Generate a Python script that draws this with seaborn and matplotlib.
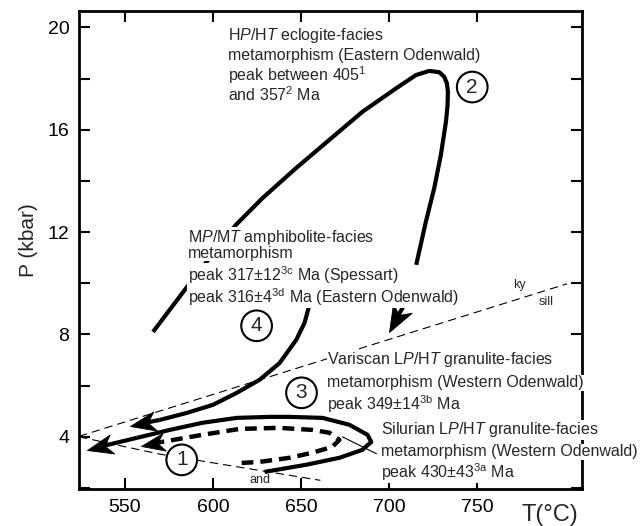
import numpy as np
import matplotlib
matplotlib.use("Agg")
import matplotlib.pyplot as plt
import seaborn as sns
from matplotlib.ticker import MultipleLocator
from matplotlib.path import Path
from matplotlib.markers import MarkerStyle
from matplotlib.transforms import Affine2D

sns.set_theme(style="ticks")
plt.rcParams['font.family'] = ['Liberation Sans', 'DejaVu Sans']
plt.rcParams['mathtext.fontset'] = 'custom'
plt.rcParams['mathtext.rm'] = 'Liberation Sans'
plt.rcParams['mathtext.it'] = 'Liberation Sans:italic'
plt.rcParams['lines.scale_dashes'] = False

# P-T paths, T in °C and P in kbar
# path 2: HP/HT eclogite facies
path2_T = [566, 584, 596, 613, 628, 647, 666, 685, 704, 715.3, 722.8, 728.5, 731.3, 732.8, 733.4,
           733.2, 732.3, 729.4, 725.6, 720.9, 715.4]
path2_P = [8.1, 9.74, 10.8, 12.28, 13.32, 14.49, 15.6, 16.71, 17.62, 18.14, 18.30, 18.25, 18.07,
           17.82, 17.49, 16.97, 16.32, 15.02, 13.71, 12.41, 10.72]
# path 4: MP/MT amphibolite facies
path4_T = [656.5, 654.8, 652.0, 647.3, 637.8, 626.5, 613.3, 600.0, 585.0, 569.8]
path4_P = [9.6, 9.16, 8.45, 7.79, 6.88, 6.23, 5.71, 5.25, 4.93, 4.66]
# path 3: Variscan LP/HT granulite facies (solid loop)
path3_T = [629.3, 653.1, 671.8, 684.8, 689.9, 687.7, 677.5, 662.2, 643.5, 632.2, 613.5, 594.2, 575.5, 556.8]
path3_P = [2.63, 2.91, 3.18, 3.49, 3.80, 4.08, 4.47, 4.74, 4.78, 4.78, 4.74, 4.55, 4.27, 3.96]
# path 1: Silurian LP/HT granulite facies (dashed loop)
path1_T = [616.3, 626.5, 643.5, 656.5, 667.8, 671.8, 666.1, 656.5, 637.8, 615.2, 594.2, 571.0]
path1_P = [2.98, 3.02, 3.18, 3.38, 3.61, 3.88, 4.16, 4.27, 4.35, 4.31, 4.08, 3.80]

# arrow heads (tail -> tip) and their size (marker size, pt)
arrow_tail_T = [708.6, 569.8, 556.8, 571.0]
arrow_tail_P = [9.16, 4.66, 3.96, 3.80]
arrow_tip_T = [700.1, 552.8, 528.5, 559.1]
arrow_tip_P = [8.10, 4.43, 3.49, 3.65]
arrow_size = [40, 37, 37, 34]

# Al2SiO5 phase boundaries
kysill_T = [524, 801]
kysill_P = [4.02, 9.98]
andsill_T = [524, 570, 661]
andsill_P = [4.0, 3.32, 2.3]

# leader line to the Silurian label
leader_T = [673.5, 692.8]
leader_P = [4.0, 3.34]

xticks = [550, 600, 650, 700, 750]

fig = plt.figure(figsize=(6.44, 5.26), dpi=100)
ax = fig.add_axes([0.1227, 0.0703, 0.781, 0.9087])
ax.set_xlim(524, 809.5)
ax.set_ylim(1.96, 20.64)

thin = dict(color='black', lw=0.8, linestyle=(0, (6, 3.6)))
sns.lineplot(x=kysill_T, y=kysill_P, sort=False, estimator=None, ax=ax, **thin)
sns.lineplot(x=andsill_T, y=andsill_P, sort=False, estimator=None, ax=ax, **thin)
sns.lineplot(x=leader_T, y=leader_P, sort=False, estimator=None, ax=ax, color='black', lw=0.8)

thick = dict(color='black', lw=3, solid_capstyle='butt', solid_joinstyle='round')
sns.lineplot(x=path2_T, y=path2_P, sort=False, estimator=None, ax=ax, **thick)
sns.lineplot(x=path4_T, y=path4_P, sort=False, estimator=None, ax=ax, **thick)
sns.lineplot(x=path3_T, y=path3_P, sort=False, estimator=None, ax=ax, **thick)
sns.lineplot(x=path1_T, y=path1_P, sort=False, estimator=None, ax=ax, color='black', lw=3.2,
             linestyle=(0, (8.5, 5)), dash_capstyle='butt')

# barbed arrow heads: a short thick shaft plus a rotated notched marker
head = Path([(0, 0), (-1, 0.38), (-0.7, 0), (-1, -0.38), (0, 0)],
            [Path.MOVETO, Path.LINETO, Path.LINETO, Path.LINETO, Path.CLOSEPOLY])
for t0, p0, t1, p1, ms in zip(arrow_tail_T, arrow_tail_P, arrow_tip_T, arrow_tip_P, arrow_size):
    d0, d1 = ax.transData.transform([(t0, p0), (t1, p1)])
    vec = d1 - d0
    ang = np.degrees(np.arctan2(vec[1], vec[0]))
    head_px = 0.5 * ms * fig.dpi / 72
    shaft_end = d1 - vec / np.hypot(*vec) * 0.6 * head_px
    se = ax.transData.inverted().transform(shaft_end)
    ax.plot([t0, se[0]], [p0, se[1]], color='black', lw=3, solid_capstyle='butt')
    ax.plot([t1], [p1], linestyle='none', color='black', markersize=ms, mew=0.6,
            marker=MarkerStyle(head, transform=Affine2D().rotate_deg(ang)))

box = dict(facecolor='white', edgecolor='none', pad=0.5)
fs = 11.5

def label(x, y, s):
    ax.text(x, y, s, fontsize=fs, ha='left', va='center', bbox=box)

label(608.4, 19.70, r'H$\mathit{P}$/H$\mathit{T}$ eclogite-facies')
label(608.4, 18.92, 'metamorphism (Eastern Odenwald)')
label(608.4, 18.14, r'peak between 405$^{\mathregular{1}}$')
label(608.4, 17.36, r'and 357$^{\mathregular{2}}$ Ma')

label(585.7, 11.80, r'M$\mathit{P}$/M$\mathit{T}$ amphibolite-facies')
label(585.7, 11.17, 'metamorphism')
label(585.7, 10.33, r'peak 317$\pm$12$^{\mathregular{3c}}$ Ma (Spessart)')
label(585.7, 9.47, r'peak 316$\pm$4$^{\mathregular{3d}}$ Ma (Eastern Odenwald)')

label(665.0, 7.01, r'Variscan L$\mathit{P}$/H$\mathit{T}$ granulite-facies')
label(665.0, 6.11, 'metamorphism (Western Odenwald)')
label(665.0, 5.29, r'peak 349$\pm$14$^{\mathregular{3b}}$ Ma')

label(695.6, 4.27, r'Silurian L$\mathit{P}$/H$\mathit{T}$ granulite-facies')
label(695.6, 3.41, 'metamorphism (Western Odenwald)')
label(695.6, 2.63, r'peak 430$\pm$43$^{\mathregular{3a}}$ Ma')

circ = dict(boxstyle='circle,pad=0.28', facecolor='white', edgecolor='black', lw=1.5)
for x, y, s in [(747.2, 17.67, '2'), (624.8, 8.34, '4'), (650.3, 5.72, '3'), (582.3, 3.10, '1')]:
    ax.text(x, y, s, fontsize=15, ha='center', va='center', bbox=circ)

ax.text(773.8, 9.94, 'ky', fontsize=9, ha='center', va='center')
ax.text(789.1, 9.27, 'sill', fontsize=9, ha='center', va='center')
ax.text(626.5, 2.32, 'and', fontsize=9, ha='center', va='center')

ax.set_xticks(xticks)
ax.yaxis.set_major_locator(MultipleLocator(4))
ax.yaxis.set_minor_locator(MultipleLocator(2))
ax.tick_params(axis='both', which='both', direction='in', top=True, right=True,
               length=8, width=1.5, labelsize=14, colors='black')
ax.tick_params(axis='x', pad=7)
ax.tick_params(axis='y', pad=7)
for sp in ax.spines.values():
    sp.set_linewidth(2)
    sp.set_color('black')

ax.set_xlabel('T(°C)', fontsize=17)
ax.xaxis.set_label_coords(0.936, -0.055)
ax.xaxis.label.set_va('center')
ax.set_ylabel('P (kbar)', fontsize=15)
ax.yaxis.set_label_coords(-0.101, 0.52)
ax.yaxis.label.set_va('center')

fig.savefig('out.png', dpi=100)
